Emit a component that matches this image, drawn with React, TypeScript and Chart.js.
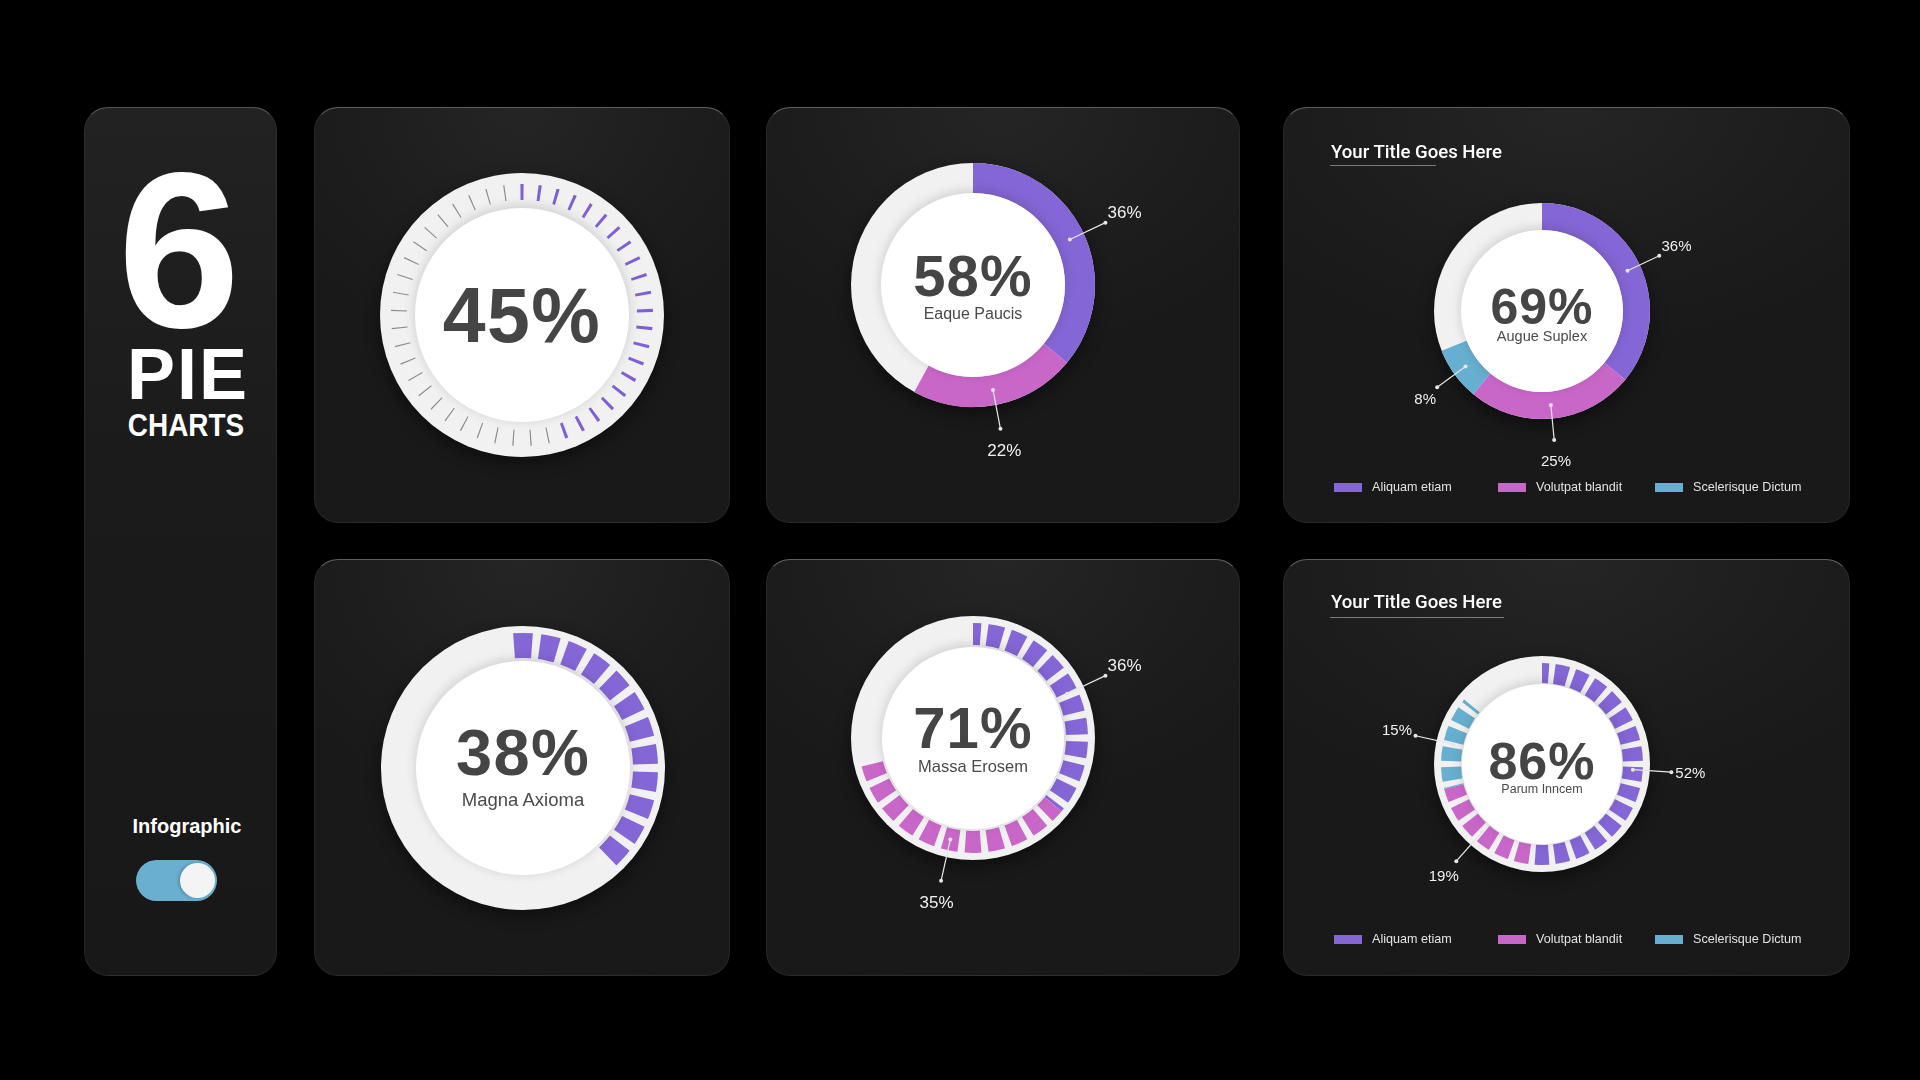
import React, { useEffect, useRef } from "react";
import { Chart, registerables } from "chart.js";

Chart.register(...registerables);

// ---------------- data ----------------
const categories = ["Aliquam etiam", "Volutpat blandit", "Scelerisque Dictum"];
const tickChartValues = [45];
const eaqueValues = [36, 22];
const augueValues = [36, 25, 8];
const magnaValues = [38];
const massaValues = [36, 35];
const parumValues = [52, 19, 15];
const subtitles = ["", "Eaque Paucis", "Augue Suplex", "Magna Axioma", "Massa Erosem", "Parum Inncem"];
const titleText = "Your Title Goes Here";
const headline = ["6", "PIE", "CHARTS"];
const sideLabel = "Infographic";

// ---------------- style ----------------
const PURPLE = "#8566d6";
const MAGENTA = "#c967c9";
const BLUE = "#67afd0";
const palette = [PURPLE, MAGENTA, BLUE];
const RING = "#f1f1f1";
const CLEAR = "rgba(0,0,0,0)";
const FONT = "'Liberation Sans', Arial, Helvetica, sans-serif";
const TITLE_FONT = "Roboto, 'Liberation Sans', Arial, sans-serif";

type Mode = "ticks" | "bars" | "solid" | "masked";
type CardSpec = {
  x: number; y: number; w: number; h: number;
  cx: number; cy: number; ringR: number; diskR: number;
  mode: Mode; seg: [number, number]; values: number[];
  big: number; bigY: number;
  sub?: string; subSize?: number; subY?: number;
  labelSize?: number;
  title?: { y: number; lineY: number; lineW: number };
  legendY?: number;
};

function tickPattern(value: number, count: number, pitch: number, onW: number, offW: number, onColor: string, offColor: string) {
  const data: number[] = [];
  const colors: string[] = [];
  for (let i = 0; i < count; i++) {
    const on = i * pitch < value * 3.6;
    const t = on ? onW : offW;
    data.push((pitch - t) / 2, t, (pitch - t) / 2);
    colors.push(CLEAR, on ? onColor : offColor, CLEAR);
  }
  return { data, colors };
}

function maskPattern(count: number, pitch: number, barW: number) {
  const data: number[] = [];
  const colors: string[] = [];
  for (let i = 0; i < count; i++) {
    data.push(pitch - barW, barW);
    colors.push(RING, CLEAR);
  }
  return { data, colors };
}

function leaderPlugin(getSrc: () => Chart | null, values: number[], ringR: number, fs: number) {
  return {
    id: "leaders",
    afterDraw(chart: Chart) {
      const src = getSrc() || chart;
      const meta = src.getDatasetMeta(0);
      const ctx = chart.ctx;
      ctx.save();
      ctx.font = `${fs}px ${FONT}`;
      values.forEach((v, i) => {
        const arc: any = meta.data[i];
        if (!arc) return;
        const a = (arc.startAngle + arc.endAngle) / 2;
        const ux = Math.cos(a);
        const uy = Math.sin(a);
        const rm = (arc.innerRadius + arc.outerRadius) / 2;
        const x1 = arc.x + ux * rm;
        const y1 = arc.y + uy * rm;
        const ro = ringR * 1.2;
        const x2 = arc.x + ux * ro;
        const y2 = arc.y + uy * ro;
        ctx.strokeStyle = "#e6e6e6";
        ctx.lineWidth = 1.2;
        ctx.beginPath();
        ctx.moveTo(x1, y1);
        ctx.lineTo(x2, y2);
        ctx.stroke();
        ctx.fillStyle = "#e6e6e6";
        ctx.beginPath();
        ctx.arc(x1, y1, 2, 0, Math.PI * 2);
        ctx.fill();
        ctx.beginPath();
        ctx.arc(x2, y2, 2, 0, Math.PI * 2);
        ctx.fill();
        const txt = `${v}%`;
        const tw = ctx.measureText(txt).width;
        ctx.fillStyle = "#f0f0f0";
        ctx.textAlign = "center";
        ctx.textBaseline = "middle";
        ctx.fillText(txt, x2 + ux * (tw / 2 + 4), y2 + uy * (fs / 2 + 14));
      });
      ctx.restore();
    },
  };
}

function makeDoughnut(
  canvas: HTMLCanvasElement, w: number, h: number, lx: number, ly: number,
  outer: number, inner: number, rotation: number, labels: string[], data: number[], colors: string[], plugins: any[]
) {
  return new Chart(canvas, {
    type: "doughnut",
    data: {
      labels,
      datasets: [
        {
          data,
          backgroundColor: colors,
          borderWidth: 0,
          hoverBorderWidth: 0,
          offset: 0,
          hoverOffset: 0,
        } as any,
      ],
    },
    options: {
      responsive: true,
      maintainAspectRatio: false,
      animation: false,
      events: [],
      rotation,
      circumference: 360,
      radius: "100%",
      cutout: (inner / outer) * 100 + "%",
      layout: { padding: { left: lx - outer, right: w - lx - outer, top: ly - outer, bottom: h - ly - outer } },
      plugins: { legend: { display: false }, tooltip: { enabled: false }, title: { display: false } },
    } as any,
    plugins,
  });
}

function RingCard({ s }: { s: CardSpec }) {
  const aRef = useRef<HTMLCanvasElement>(null);
  const bRef = useRef<HTMLCanvasElement>(null);

  useEffect(() => {
    const charts: Chart[] = [];
    const lx = s.cx - s.x;
    const ly = s.cy - s.y;
    const [rin, rout] = s.seg;
    const sum = s.values.reduce((a, b) => a + b, 0);
    const segLabels = [...categories.slice(0, s.values.length), "rest"];
    const segData = [...s.values, 100 - sum];
    const segColors = [...palette.slice(0, s.values.length), CLEAR];
    if (s.mode === "ticks") {
      const p = tickPattern(s.values[0], 45, 8, 1.4, 0.55, "#7e60d4", "#8c8c8c");
      charts.push(makeDoughnut(aRef.current!, s.w, s.h, lx, ly, rout, rin, -4, p.data.map((_, i) => "t" + i), p.data, p.colors, []));
    } else if (s.mode === "bars") {
      const p = tickPattern(s.values[0], 30, 12, 8.4, 8.4, PURPLE, CLEAR);
      charts.push(makeDoughnut(aRef.current!, s.w, s.h, lx, ly, rout, rin, -6, p.data.map((_, i) => "b" + i), p.data, p.colors, []));
    } else if (s.mode === "solid") {
      let self: Chart | null = null;
      const plug = s.labelSize ? [leaderPlugin(() => self, s.values, s.ringR, s.labelSize)] : [];
      self = makeDoughnut(aRef.current!, s.w, s.h, lx, ly, rout, rin, 0, segLabels, segData, segColors, plug);
      charts.push(self);
    } else {
      const dataChart = makeDoughnut(aRef.current!, s.w, s.h, lx, ly, rout, rin, 0, segLabels, segData, segColors, []);
      charts.push(dataChart);
      const m = maskPattern(30, 12, 8.4);
      const plug = s.labelSize ? [leaderPlugin(() => dataChart, s.values, s.ringR, s.labelSize)] : [];
      charts.push(
        makeDoughnut(bRef.current!, s.w, s.h, lx, ly, rout + 1, rin - 1, -(3.6 + 4.2), m.data.map((_, i) => "m" + i), m.data, m.colors, plug)
      );
    }
    return () => charts.forEach((c) => c.destroy());
  }, []);

  const total = s.values.reduce((a, b) => a + b, 0);
  const abs = (l: number, t: number, w: number, h: number): React.CSSProperties => ({ position: "absolute", left: l, top: t, width: w, height: h });

  return (
    <>
      <div
        style={{
          ...abs(s.x, s.y, s.w, s.h),
          boxSizing: "border-box",
          borderRadius: 24,
          background: "radial-gradient(ellipse 70% 60% at 50% 0%, #252525 0%, #1d1d1d 60%, #191919 100%)",
          border: "1px solid rgba(255,255,255,0.06)",
          borderTopColor: "rgba(255,255,255,0.30)",
        }}
      />
      <div
        style={{
          ...abs(s.cx - s.ringR, s.cy - s.ringR, s.ringR * 2, s.ringR * 2),
          borderRadius: "50%",
          background: RING,
          boxShadow: "0 6px 16px rgba(0,0,0,0.45)",
        }}
      />
      <div style={abs(s.x, s.y, s.w, s.h)}>
        <canvas ref={aRef} />
      </div>
      {s.mode === "masked" && (
        <div style={abs(s.x, s.y, s.w, s.h)}>
          <canvas ref={bRef} />
        </div>
      )}
      <div
        style={{
          ...abs(s.cx - s.diskR, s.cy - s.diskR, s.diskR * 2, s.diskR * 2),
          borderRadius: "50%",
          background: "#ffffff",
          boxShadow: "0 -2px 12px rgba(0,0,0,0.16)",
        }}
      />
      <div
        style={{
          ...abs(s.cx - 150, s.bigY - s.big * 0.49, 300, s.big),
          textAlign: "center",
          fontFamily: FONT,
          fontWeight: 700,
          fontSize: s.big,
          lineHeight: 1,
          color: "#454545",
          letterSpacing: s.big * 0.02,
        }}
      >
        {total}%
      </div>
      {s.sub && (
        <div
          style={{
            ...abs(s.cx - 120, s.subY! - s.subSize! * 0.5, 240, s.subSize!),
            textAlign: "center",
            fontFamily: FONT,
            fontSize: s.subSize,
            lineHeight: 1,
            color: "#4a4a4a",
          }}
        >
          {s.sub}
        </div>
      )}
      {s.title && (
        <>
          <div
            style={{
              position: "absolute",
              left: 1331,
              top: s.title.y - 10,
              height: 20,
              lineHeight: "20px",
              fontFamily: TITLE_FONT,
              fontWeight: 500,
              fontSize: 18.6,
              color: "#ffffff",
              whiteSpace: "nowrap",
            }}
          >
            {titleText}
          </div>
          <div style={{ ...abs(1330, s.title.lineY, s.title.lineW, 1), background: "#7a7a7a" }} />
        </>
      )}
      {s.legendY !== undefined &&
        categories.map((c, i) => {
          const bx = [1334, 1498, 1655][i];
          return (
            <React.Fragment key={c}>
              <div style={{ ...abs(bx, s.legendY! - 4.5, 28, 9), background: palette[i] }} />
              <div
                style={{
                  position: "absolute",
                  left: bx + 38,
                  top: s.legendY! - 8,
                  height: 16,
                  lineHeight: "16px",
                  fontFamily: FONT,
                  fontSize: 12.6,
                  color: "#e2e2e2",
                  whiteSpace: "nowrap",
                }}
              >
                {c}
              </div>
            </React.Fragment>
          );
        })}
    </>
  );
}

const specs: CardSpec[] = [
  { x: 314, y: 107, w: 416, h: 416, cx: 522, cy: 315, ringR: 142, diskR: 107, mode: "ticks", seg: [115, 131], values: tickChartValues, big: 77, bigY: 315 },
  { x: 766, y: 107, w: 474, h: 416, cx: 973, cy: 285, ringR: 122, diskR: 92, mode: "solid", seg: [92, 122], values: eaqueValues, big: 58, bigY: 275, sub: subtitles[1], subSize: 16, subY: 314, labelSize: 17 },
  { x: 1283, y: 107, w: 567, h: 416, cx: 1542, cy: 311, ringR: 108, diskR: 81, mode: "solid", seg: [81, 108], values: augueValues, big: 50, bigY: 306, sub: subtitles[2], subSize: 14.5, subY: 336, labelSize: 15, title: { y: 152, lineY: 165, lineW: 106 }, legendY: 487 },
  { x: 314, y: 559, w: 416, h: 417, cx: 523, cy: 768, ringR: 142, diskR: 107, mode: "bars", seg: [110, 135], values: magnaValues, big: 65, bigY: 752, sub: subtitles[3], subSize: 18.5, subY: 800 },
  { x: 766, y: 559, w: 474, h: 417, cx: 973, cy: 738, ringR: 122, diskR: 91, mode: "masked", seg: [93, 115], values: massaValues, big: 58, bigY: 727, sub: subtitles[4], subSize: 16.5, subY: 766, labelSize: 17 },
  { x: 1283, y: 559, w: 567, h: 417, cx: 1542, cy: 764, ringR: 108, diskR: 80, mode: "masked", seg: [81, 101], values: parumValues, big: 52, bigY: 760, sub: subtitles[5], subSize: 12.5, subY: 789, labelSize: 15, title: { y: 602, lineY: 617, lineW: 174 }, legendY: 939 },
];

export default function App() {
  return (
    <div style={{ position: "absolute", left: 0, top: 0, width: 1920, height: 1080, background: "#000", overflow: "hidden" }}>
      {/* left title card */}
      <div
        style={{
          position: "absolute",
          left: 84,
          top: 107,
          width: 193,
          height: 869,
          boxSizing: "border-box",
          borderRadius: 24,
          background: "linear-gradient(180deg, #222 0%, #1b1b1b 40%, #181818 100%)",
          border: "1px solid rgba(255,255,255,0.06)",
          borderTopColor: "rgba(255,255,255,0.25)",
        }}
      />
      <div style={{ position: "absolute", left: 79, top: 141, width: 200, height: 220, textAlign: "center", fontFamily: FONT, fontWeight: 700, fontSize: 220, lineHeight: 1, color: "#fff" }}>
        {headline[0]}
      </div>
      <div style={{ position: "absolute", left: 88, top: 338, width: 200, height: 72, textAlign: "center", fontFamily: FONT, fontWeight: 700, fontSize: 72, lineHeight: 1, color: "#fff", letterSpacing: 2 }}>
        {headline[1]}
      </div>
      <div style={{ position: "absolute", left: 86, top: 410, width: 200, height: 31, textAlign: "center", fontFamily: FONT, fontWeight: 700, fontSize: 31, lineHeight: 1, color: "#fff", transform: "scaleX(0.9)" }}>
        {headline[2]}
      </div>
      <div style={{ position: "absolute", left: 87, top: 816, width: 200, height: 20, textAlign: "center", fontFamily: FONT, fontWeight: 700, fontSize: 20, lineHeight: "20px", color: "#fff" }}>
        {sideLabel}
      </div>
      <div style={{ position: "absolute", left: 136, top: 860, width: 81, height: 41, borderRadius: 21, background: "#6aafd0" }} />
      <div style={{ position: "absolute", left: 180, top: 863, width: 35, height: 35, borderRadius: "50%", background: "#f4f4f4", boxShadow: "-2px 0 3px rgba(0,0,0,0.18)" }} />
      {specs.map((s, i) => (
        <RingCard key={i} s={s} />
      ))}
    </div>
  );
}
